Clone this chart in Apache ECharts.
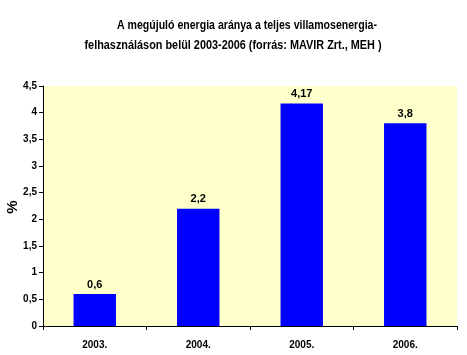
<!DOCTYPE html>
<html>
<head>
<meta charset="utf-8">
<script src="https://cdn.jsdelivr.net/npm/echarts@6/dist/echarts.min.js"></script>
<style>html,body{margin:0;padding:0;background:#fff}#c{width:467px;height:355px}</style>
</head>
<body>
<div id="c"></div>
<script>
var categories = ['2003.', '2004.', '2005.', '2006.'];
var values = [0.6, 2.2, 4.17, 3.8];
var titleLine1 = 'A megújuló energia aránya a teljes villamosenergia-';
var titleLine2 = 'felhasználáson belül 2003-2006 (forrás: MAVIR Zrt., MEH )';
var yAxisName = '%';

var FONT = "'Liberation Sans', Arial, sans-serif";
var TITLE_FONT = "bold 13px 'Liberation Sans', Arial, sans-serif";
function comma(v) { return String(v).replace('.', ','); }
function fitScale(text, font, target) {
  var ctx = document.createElement('canvas').getContext('2d');
  ctx.font = font;
  return target / ctx.measureText(text).width;
}

var chart = echarts.init(document.getElementById('c'), null, {renderer: 'canvas'});
chart.setOption({
  animation: false,
  backgroundColor: '#ffffff',
  graphic: [
    {type: 'text', x: 247, y: 25, scaleX: fitScale(titleLine1, TITLE_FONT, 260),
     style: {text: titleLine1, font: TITLE_FONT, fill: '#000', textAlign: 'center', textVerticalAlign: 'middle'}},
    {type: 'text', x: 233, y: 45, scaleX: fitScale(titleLine2, TITLE_FONT, 297),
     style: {text: titleLine2, font: TITLE_FONT, fill: '#000', textAlign: 'center', textVerticalAlign: 'middle'}},
    {type: 'text', x: 13, y: 207, rotation: Math.PI / 2,
     style: {text: yAxisName, font: "bold 15px 'Liberation Sans', Arial, sans-serif", fill: '#000',
             textAlign: 'center', textVerticalAlign: 'middle'}}
  ],
  grid: {left: 43, right: 10, top: 86, bottom: 29, show: true, outerBoundsMode: 'none',
         containLabel: false, backgroundColor: '#FFFFCC', borderWidth: 0},
  xAxis: {
    type: 'category', data: categories,
    axisLine: {lineStyle: {color: '#000', width: 1}},
    axisTick: {show: true, length: 4, lineStyle: {color: '#000'}},
    axisLabel: {fontFamily: FONT, fontSize: 10, fontWeight: 'bold', color: '#000', margin: 14}
  },
  yAxis: {
    type: 'value', min: 0, max: 4.5, interval: 0.5,
    axisLine: {show: true, lineStyle: {color: '#000', width: 1}},
    axisTick: {show: true, length: 4, lineStyle: {color: '#000'}},
    splitLine: {show: false},
    axisLabel: {fontFamily: FONT, fontSize: 10, fontWeight: 'bold', color: '#000', margin: 6,
                formatter: function (v) { return comma(v); }}
  },
  series: [{
    type: 'bar', data: values, barWidth: '41%',
    itemStyle: {color: '#0000FF'},
    label: {show: true, position: 'top', distance: 4, fontFamily: FONT, fontSize: 11,
            fontWeight: 'bold', color: '#000', formatter: function (p) { return comma(p.value); }}
  }]
});
</script>
</body>
</html>
